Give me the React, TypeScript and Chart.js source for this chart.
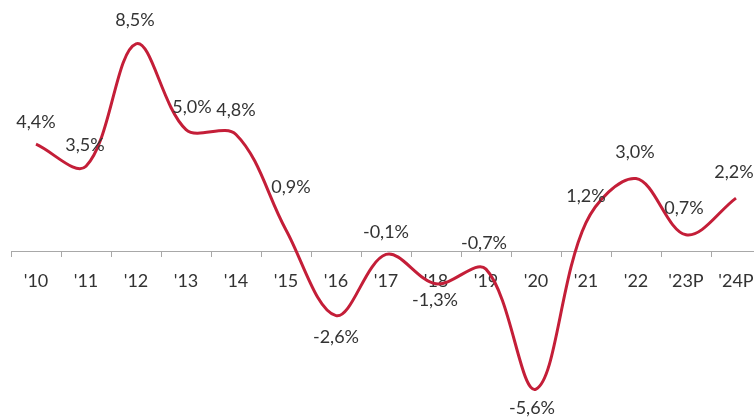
import React, { useEffect, useRef } from "react";
import { Chart, registerables } from "chart.js";

Chart.register(...registerables);

const categories = ["'10", "'11", "'12", "'13", "'14", "'15", "'16", "'17", "'18", "'19", "'20", "'21", "'22", "'23P", "'24P"];
const growth = [4.4, 3.5, 8.5, 5.0, 4.8, 0.9, -2.6, -0.1, -1.3, -0.7, -5.6, 1.2, 3.0, 0.7, 2.2];

// label placement offsets (style only), [dx, dy] in px from each point
const labelOffsets: [number, number][] = [
  [0, -22], [-1, -21], [-1, -24], [6, -22], [0, -24], [5, -43], [0, 22], [0, -22],
  [-1, 16], [-2, -26], [-4, 19], [0, -26], [-1, -26], [-2, -27], [-2, -26],
];

const FONT = "Lato, 'Open Sans', sans-serif";
const TEXT = "#333333";
const LINE = "#c41e38";

const fmt = (v: number) => v.toFixed(1).replace(".", ",") + "%";

const labelPlugin = {
  id: "valueLabels",
  afterDatasetsDraw(chart: any) {
    const ctx = chart.ctx;
    const meta = chart.getDatasetMeta(0);
    ctx.save();
    ctx.font = `18px ${FONT}`;
    ctx.fillStyle = TEXT;
    ctx.textAlign = "center";
    ctx.textBaseline = "middle";
    meta.data.forEach((pt: any, i: number) => {
      const [dx, dy] = labelOffsets[i] || [0, -22];
      ctx.fillText(fmt(growth[i]), pt.x + dx, pt.y + dy);
    });
    ctx.restore();
  },
};

export default function App() {
  const ref = useRef<HTMLCanvasElement | null>(null);
  useEffect(() => {
    if (!ref.current) return;
    const chart = new Chart(ref.current, {
      type: "line",
      data: {
        labels: categories,
        datasets: [
          {
            data: growth,
            borderColor: LINE,
            borderWidth: 3,
            pointRadius: 0,
            tension: 0.35,
            fill: false,
          },
        ],
      },
      options: {
        animation: false,
        responsive: false,
        maintainAspectRatio: false,
        layout: { padding: { left: 11, right: 9, top: 0, bottom: 0 } },
        plugins: { legend: { display: false }, tooltip: { enabled: false } },
        scales: {
          x: {
            position: { y: 0 } as any,
            offset: true,
            grid: {
              offset: true,
              drawOnChartArea: false,
              drawTicks: true,
              tickLength: 5,
              color: "#a8a8a8",
            },
            border: { display: true, color: "#a8a8a8", width: 1 },
            ticks: {
              color: TEXT,
              font: { family: FONT, size: 18 },
              padding: 13,
              maxRotation: 0,
              autoSkip: false,
            },
          },
          y: {
            display: false,
            min: -6.82,
            max: 10.29,
          },
        },
      },
      plugins: [labelPlugin],
    });
    return () => chart.destroy();
  }, []);
  return (
    <div style={{ position: "fixed", left: 0, top: 0, width: 754, height: 419, overflow: "hidden", background: "#fff" }}>
      <canvas ref={ref} width={770} height={419} style={{ display: "block", width: 770, height: 419 }} />
    </div>
  );
}
